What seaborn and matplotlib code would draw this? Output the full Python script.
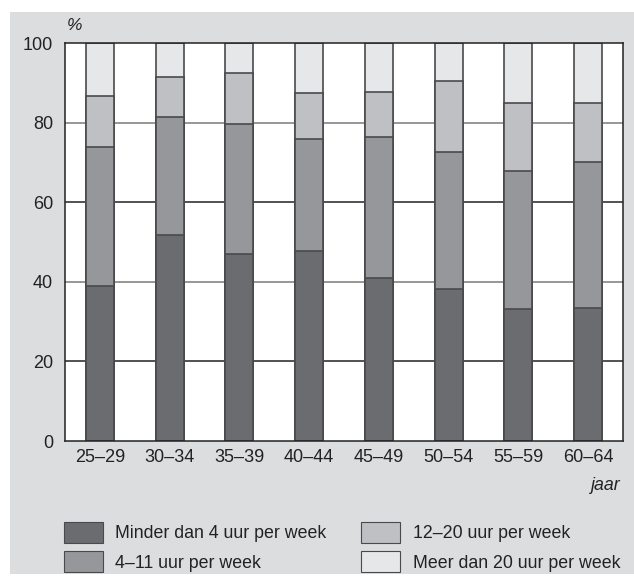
import pandas as pd
import matplotlib.pyplot as plt
import matplotlib.patches as mpatches
import seaborn as sns
import numpy as np

# leeftijdsgroepen
groups = ['25–29', '30–34', '35–39', '40–44', '45–49', '50–54', '55–59', '60–64']

# percentages per categorie (stapels)
minder_4 = [39.0, 51.8, 46.9, 47.7, 40.9, 38.2, 33.1, 33.4]
uur_4_11 = [34.9, 29.6, 32.7, 28.2, 35.4, 34.4, 34.8, 36.7]
uur_12_20 = [12.9, 10.0, 12.9, 11.5, 11.3, 17.9, 17.1, 14.9]
meer_20 = [13.2, 8.6, 7.5, 12.6, 12.4, 9.5, 15.0, 15.0]

labels = ['Minder dan 4 uur per week', '4–11 uur per week',
          '12–20 uur per week', 'Meer dan 20 uur per week']
colors = ['#6b6c70', '#96979b', '#bfc0c3', '#e6e7e9']

df = pd.DataFrame({'groep': groups, labels[0]: minder_4, labels[1]: uur_4_11,
                   labels[2]: uur_12_20, labels[3]: meer_20})
cum = df[labels].cumsum(axis=1)

sns.set_style('white')
plt.rcParams['font.family'] = ['Liberation Sans', 'DejaVu Sans']

fig = plt.figure(figsize=(6.34, 5.84), dpi=100)
fig.patch.set_facecolor('white')
# grijs paneel achter de grafiek
fig.patches.append(mpatches.Rectangle((10 / 634, 10 / 584), 1 - 10 / 634, 562 / 584,
                                      transform=fig.transFigure, facecolor='#dcdddf',
                                      edgecolor='none', zorder=-5))

ax = fig.add_axes([65 / 634, 1 - 441 / 584, 558 / 634, 398 / 584])
ax.set_facecolor('white')

# rasterlijnen
for yv, c in [(20, '#222222'), (40, '#7a7a7a'), (60, '#222222'), (80, '#7a7a7a')]:
    ax.axhline(yv, color=c, lw=1.1, zorder=0.5)

# gestapelde staven: van boven naar beneden tekenen
for lab, col in reversed(list(zip(labels, colors))):
    sns.barplot(x=df['groep'], y=cum[lab], color=col, saturation=1, width=0.4,
                edgecolor='#4a4a4c', linewidth=1.2, ax=ax, zorder=2)

ax.set_xlim(-0.5, 7.5)
ax.set_ylim(0, 100)
ax.set_yticks(np.arange(0, 101, 20))
ax.tick_params(axis='both', length=0, labelsize=13, colors='#222222')
ax.tick_params(axis='y', pad=8.5)
ax.tick_params(axis='x', pad=6)
ax.set_xlabel('')
ax.set_ylabel('')
for s in ax.spines.values():
    s.set_color('#222222')
    s.set_linewidth(1.1)
    s.set_visible(True)

ax.text(-0.47, 102.5, '%', fontsize=12.5, style='italic', color='#222222', ha='left', va='bottom')
ax.text(7.47, -11.1, 'jaar', fontsize=12.8, style='italic', color='#222222', ha='right', va='center')

handles = [mpatches.Patch(facecolor=c, edgecolor='#4a4a4c', linewidth=0.8) for c in colors]
leg = fig.legend(handles, labels, ncol=2, loc='lower left',
                 bbox_to_anchor=(64 / 634, 12 / 584), frameon=False, fontsize=12.8,
                 borderpad=0, borderaxespad=0,
                 handlelength=2.17, handleheight=1.4, handletextpad=0.71,
                 columnspacing=1.97, labelspacing=0.5)
for t in leg.get_texts():
    t.set_color('#222222')

fig.savefig('out.png', dpi=100)
